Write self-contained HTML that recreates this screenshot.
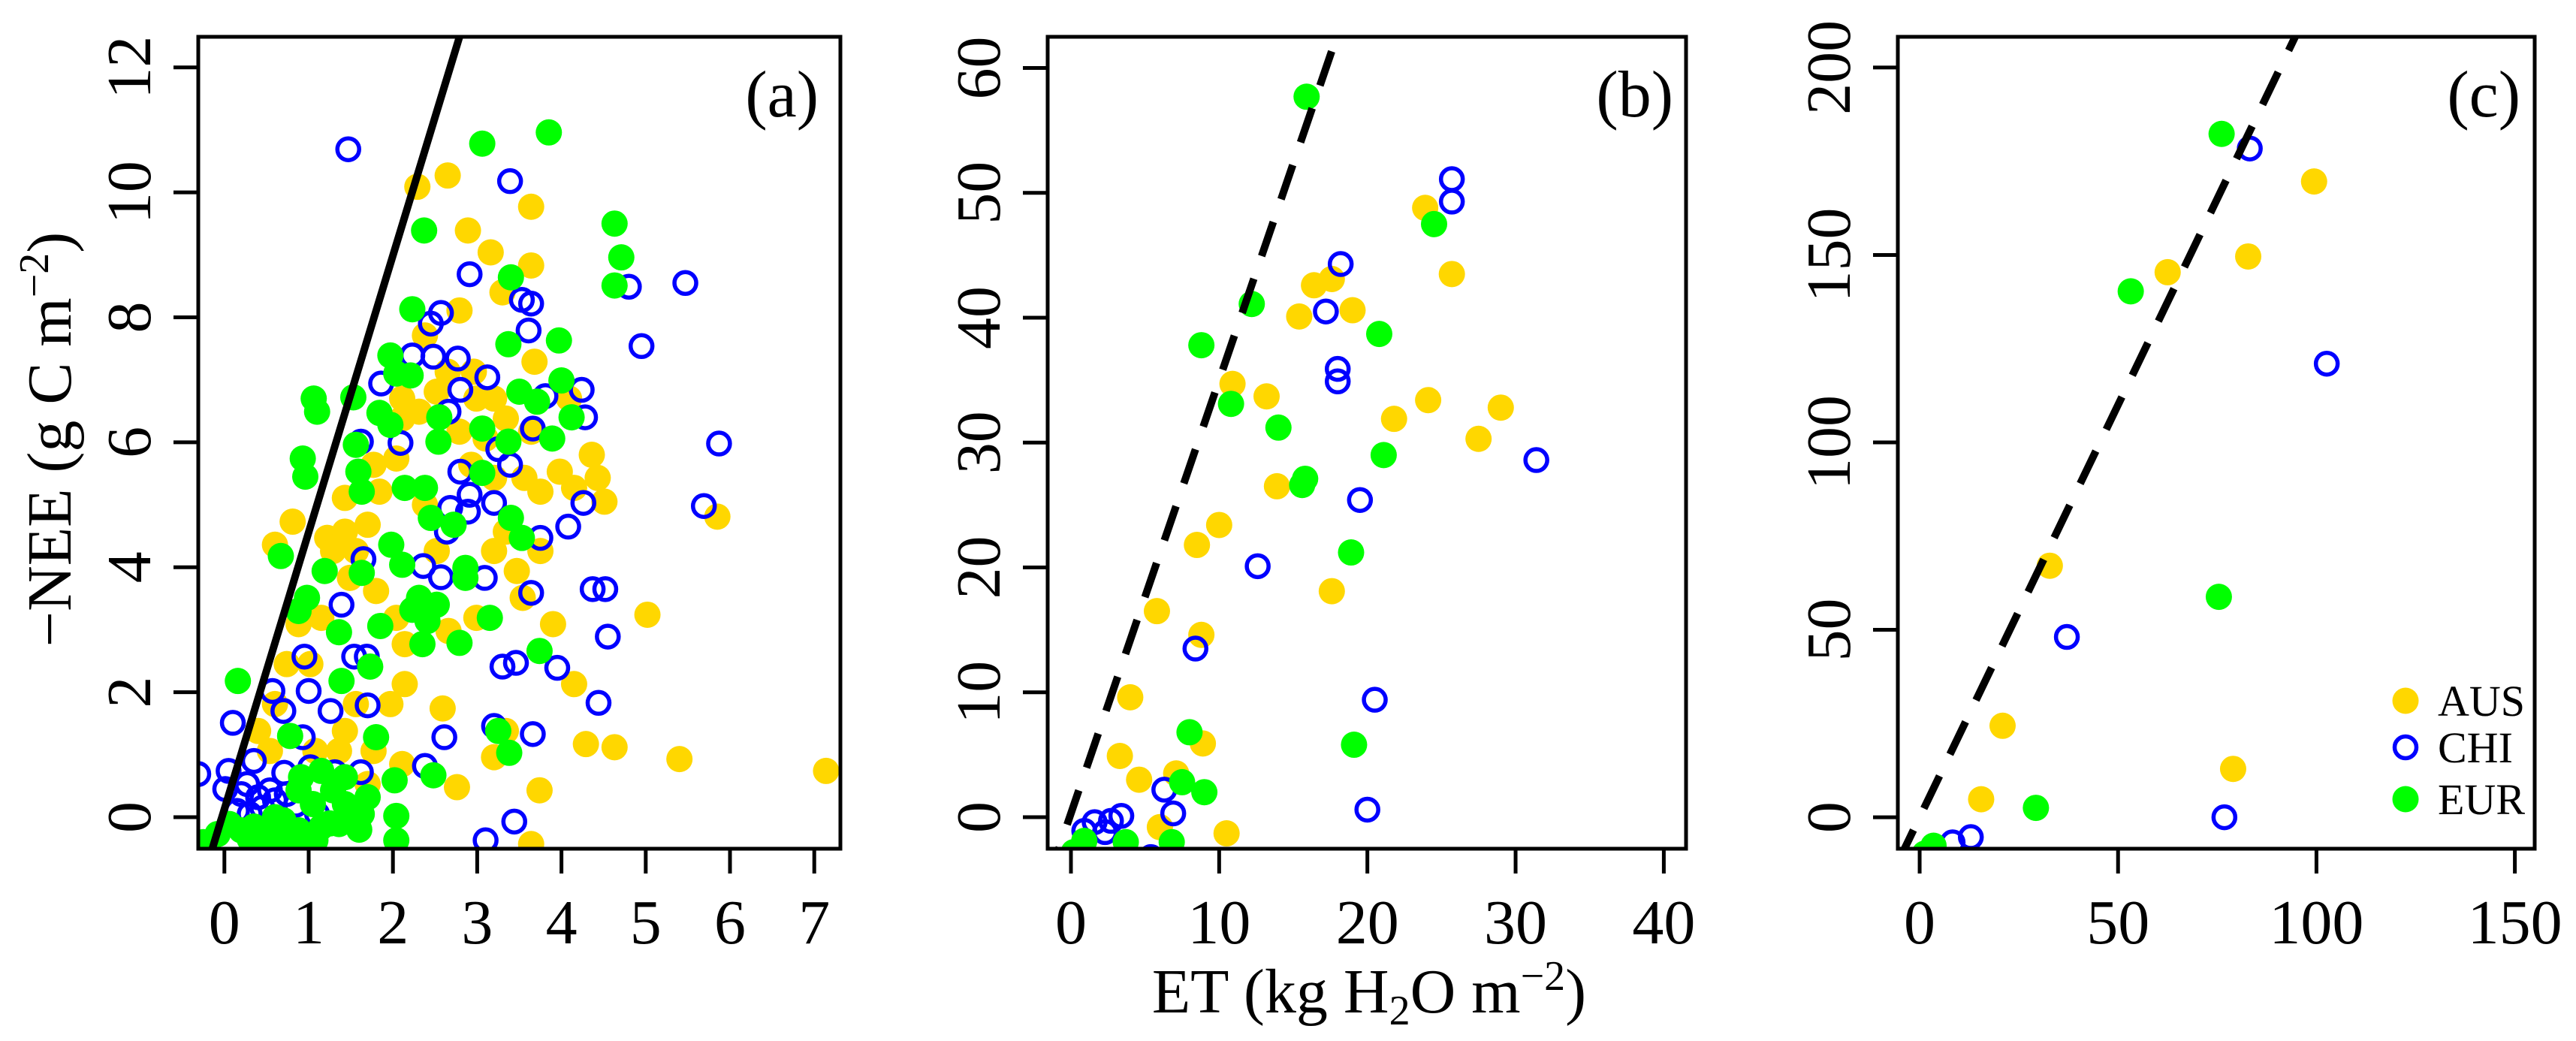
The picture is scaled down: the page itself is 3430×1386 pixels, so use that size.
<!DOCTYPE html>
<html><head><meta charset="utf-8"><style>
html,body{margin:0;padding:0;background:#fff;}
svg{display:block;}
svg text{font-family:"Liberation Serif","Times New Roman",Times,serif;}
</style></head><body>
<svg id="chart" width="3430" height="1386" viewBox="0 0 3430 1386" xmlns="http://www.w3.org/2000/svg" font-family="'Liberation Serif', serif">
<rect x="0" y="0" width="3430" height="1386" fill="#fff"/>
</svg>
<script>
// ---- Panel (a) data ----
const aAusX=[2.65,2.29,2.89,3.16,3.64,3.64,3.30,2.79,2.38,3.68,2.96,4.09,4.36,3.98,4.15,4.51,3.75,3.56,5.85,5.02,5.40,7.14,4.29,4.63,3.90,3.74,3.64,2.76,2.59,2.14,1.97,2.14,1.80,1.49,1.22,1.43,1.70,0.81,0.60,1.29,1.56,1.84,1.43,1.77,2.04,2.11,2.31,2.52,2.65,2.11,3.34,3.20,3.10,3.64,2.93,3.20,3.34,3.20,3.47,3.75,3.54,2.99,2.66,2.04,1.15,0.88,1.02,0.74,0.60,0.40,0.54,1.08,1.43,1.56,1.36,1.77,2.11,1.70,3.20,3.34,4.15,2.52,2.38,2.79,2.99,4.43];
const aAusY=[10.27,10.09,9.39,9.04,9.77,8.83,8.40,8.11,7.71,7.29,7.13,6.70,5.80,5.53,5.27,5.05,5.21,5.43,4.81,3.24,0.93,0.74,1.17,1.12,3.09,0.43,-0.43,0.48,1.74,2.13,1.81,2.77,3.62,3.83,4.47,4.57,4.68,4.73,4.36,4.26,4.26,5.21,5.11,5.64,5.74,6.38,6.49,6.81,7.13,6.70,6.38,6.70,6.06,6.17,5.64,5.43,4.57,4.26,3.94,4.26,3.51,3.19,2.98,3.19,3.19,3.09,2.45,2.45,1.81,1.38,1.06,1.06,1.38,1.81,1.06,1.06,0.85,0.53,0.96,1.38,2.13,4.26,5.00,6.17,6.70,5.43];
const aChiX=[1.47,3.39,2.91,4.80,5.47,4.95,5.87,5.69,2.57,2.45,3.53,3.64,3.61,2.48,2.23,2.77,1.86,3.12,2.80,3.81,4.24,4.28,2.66,3.66,2.09,1.62,3.25,3.39,2.80,2.91,2.89,2.68,4.26,3.20,2.64,3.75,4.08,1.65,2.36,2.57,3.09,3.64,4.37,4.52,4.55,1.39,0.95,1.00,1.26,1.70,0.57,0.70,0.10,0.93,1.69,1.54,3.30,3.46,3.95,4.44,3.20,3.66,2.61,2.38,3.44,3.10,-0.31,0.05,0.01,0.35,0.71,1.02,1.31,1.62,0.20,0.40,0.54,0.27,0.60,0.74,0.15,0.45,0.85,1.10,0.30];
const aChiY=[10.69,10.18,8.69,8.49,8.55,7.54,5.98,4.98,8.07,7.90,8.28,8.22,7.79,7.37,7.39,7.34,6.94,7.04,6.84,6.74,6.84,6.40,6.49,6.22,5.99,6.01,5.89,5.64,5.53,5.16,4.89,4.95,5.03,5.03,4.57,4.47,4.65,4.13,4.02,3.84,3.83,3.59,3.65,3.65,2.89,3.40,2.57,2.02,1.70,1.79,2.02,1.70,1.51,1.28,2.57,2.57,2.41,2.47,2.39,1.83,1.46,1.33,1.28,0.82,-0.07,-0.37,0.69,0.74,0.45,0.90,0.71,0.80,0.72,0.72,0.37,0.32,0.43,0.53,0.27,0.37,0.10,0.15,0.20,0.05,0.05];
const aEurX=[3.85,3.06,4.63,4.71,4.63,2.37,3.40,2.23,3.37,3.97,1.97,2.04,2.21,1.53,1.06,1.10,1.84,1.97,2.55,3.50,3.71,4.00,4.12,3.89,3.06,3.37,2.54,1.56,0.93,0.96,1.59,3.06,1.63,2.14,2.38,2.45,2.72,3.40,3.53,0.67,1.19,1.63,1.98,2.11,2.86,2.86,0.98,0.88,2.31,2.52,2.23,2.41,3.15,1.85,1.36,2.35,2.79,3.74,1.73,1.39,0.16,0.78,1.80,3.25,3.38,2.48,2.02,1.63,2.04,2.04,-0.08,0.20,0.54,0.88,1.15,1.36,1.56,0.40,0.74,1.08,1.29,1.43,1.15,0.91,1.05,1.43,1.70,0.88,0.60,0.06,-0.25,0.30,0.45,0.95,0.70,1.25,1.60,0.35];
const aEurY=[10.96,10.78,9.50,8.96,8.51,9.39,8.64,8.13,7.57,7.63,7.39,7.10,7.07,6.72,6.70,6.49,6.47,6.28,6.40,6.81,6.65,6.99,6.40,6.06,6.22,6.01,6.01,5.96,5.74,5.45,5.53,5.51,5.21,5.27,5.27,4.79,4.68,4.79,4.47,4.18,3.94,3.91,4.36,4.04,3.99,3.83,3.51,3.30,3.51,3.40,3.32,3.14,3.19,3.06,2.96,2.77,2.79,2.66,2.41,2.18,2.18,1.30,1.28,1.38,1.03,0.67,0.59,0.05,0.02,-0.37,-0.27,-0.21,-0.16,-0.21,-0.16,-0.11,0.00,-0.43,-0.43,-0.37,0.43,0.64,0.74,0.64,0.21,0.21,0.32,0.43,0.00,-0.11,-0.40,-0.35,-0.40,-0.30,-0.05,-0.10,-0.20,-0.15];
// ---- Panel (b) data ----
const bAusX=[5.8,4.0,3.3,4.6,8.5,10.0,8.8,8.9,7.1,6.0,10.5,10.9,13.2,13.9,15.4,16.4,17.6,19.0,17.6,21.8,23.9,24.1,25.7,27.5,29.0];
const bAusY=[16.5,9.6,4.9,3.0,21.8,23.4,14.6,5.9,3.5,-0.8,-1.3,34.7,33.7,26.5,40.1,42.6,43.1,40.6,18.1,31.9,48.8,33.4,43.5,30.3,32.8];
const bChiX=[18.2,17.2,18.0,18.0,25.7,25.7,31.4,19.5,12.6,8.4,20.5,20.0,6.3,6.9,3.4,2.7,1.6,0.9,2.3,5.4];
const bChiY=[44.3,40.5,35.9,34.9,51.1,49.3,28.6,25.4,20.1,13.5,9.4,0.6,2.2,0.3,0.1,-0.3,-0.4,-1.1,-1.2,-3.2];
const bEurX=[15.9,12.2,8.8,10.8,14.0,20.8,21.1,15.6,15.8,18.9,24.5,8.0,19.1,7.5,9.0,6.8,3.7,0.9,0.2];
const bEurY=[57.7,41.1,37.8,33.1,31.2,38.7,29.0,26.6,27.1,21.2,47.5,6.8,5.8,2.8,2.0,-2.0,-2.0,-1.9,-2.8];
// ---- Panel (c) data ----
const cAusX=[32.8,20.9,15.5,62.5,82.8,99.4,79.0];
const cAusY=[67.1,24.4,4.8,145.4,149.6,169.6,12.9];
const cChiX=[83.2,102.6,37.1,76.8,12.9,8.3];
const cChiY=[178.4,121.0,48.1,0,-5.3,-6.7];
const cEurX=[76.1,53.2,75.4,29.3,3.5,1.3];
const cEurY=[182.3,140.3,58.8,2.5,-7.6,-9.7];
// ticks
const aXTicks=[0,1,2,3,4,5,6,7], aYTicks=[0,2,4,6,8,10,12];
const bXTicks=[0,10,20,30,40], bYTicks=[0,10,20,30,40,50,60];
const cXTicks=[0,50,100,150], cYTicks=[0,50,100,150,200];
// reference lines: slope, intercept
const aLine=[4.43,0.13], bLine=[3.47,0.3], cLine=[2.2,0];

const NS="http://www.w3.org/2000/svg";
const FONT="'Liberation Serif', 'Times New Roman', serif";
const svg=document.getElementById('chart');
function mk(tag,attrs,parent){const e=document.createElementNS(NS,tag);for(const k in attrs)e.setAttribute(k,attrs[k]);if(tag==='text')e.setAttribute('font-family',FONT);(parent||svg).appendChild(e);return e;}

const panels=[
 {id:'a',box:[264,49,1119,1130],xd:[-0.31,7.31],yd:[-0.505,12.49],xt:aXTicks,yt:aYTicks,line:aLine,dash:false,lab:'(a)',labx:1090,
  aus:[aAusX,aAusY],chi:[aChiX,aChiY],eur:[aEurX,aEurY]},
 {id:'b',box:[1395,49,2245,1130],xd:[-1.57,41.5],yd:[-2.53,62.5],xt:bXTicks,yt:bYTicks,line:bLine,dash:true,lab:'(b)',labx:2228,
  aus:[bAusX,bAusY],chi:[bChiX,bChiY],eur:[bEurX,bEurY]},
 {id:'c',box:[2527,49,3375,1130],xd:[-5.5,155],yd:[-8.4,208.2],xt:cXTicks,yt:cYTicks,line:cLine,dash:true,lab:'(c)',labx:3356,
  aus:[cAusX,cAusY],chi:[cChiX,cChiY],eur:[cEurX,cEurY]}
];
const AUS='#FFD700', CHI='#0000FF', EUR='#00FF00';

panels.forEach(p=>{
  const [L,T,R,B]=p.box;
  const sx=v=>L+(v-p.xd[0])/(p.xd[1]-p.xd[0])*(R-L);
  const sy=v=>B-(v-p.yd[0])/(p.yd[1]-p.yd[0])*(B-T);
  const g=mk('g',{});
  
  
  const cp=mk('clipPath',{id:'clip-'+p.id},g);
  mk('rect',{x:L,y:T,width:R-L,height:B-T},cp);
  const marks=mk('g',{'clip-path':'url(#clip-'+p.id+')'},g);
  
  
  p.aus[0].forEach((x,i)=>{const c=mk('circle',{cx:sx(x),cy:sy(p.aus[1][i]),r:17.5,fill:AUS},marks);
    
    });
  p.chi[0].forEach((x,i)=>{const c=mk('circle',{cx:sx(x),cy:sy(p.chi[1][i]),r:14.5,fill:'none',stroke:CHI,'stroke-width':5.5},marks);
    
    });
  p.eur[0].forEach((x,i)=>{const c=mk('circle',{cx:sx(x),cy:sy(p.eur[1][i]),r:17.5,fill:EUR},marks);
    
    });
  const x0=p.xd[0], x1=p.xd[1];
  const ln=mk('line',{x1:sx(x0),y1:sy(p.line[0]*x0+p.line[1]),x2:sx(x1),y2:sy(p.line[0]*x1+p.line[1]),stroke:'#000','stroke-width':10},marks);
  if(p.dash) ln.setAttribute('stroke-dasharray','48 32');
  
  
  const box=mk('rect',{x:L,y:T,width:R-L,height:B-T,fill:'none',stroke:'#000','stroke-width':5},g);
  
  
  p.xt.forEach(v=>{
    const x=sx(v);
    const t=mk('line',{x1:x,y1:B,x2:x,y2:B+33,stroke:'#000','stroke-width':5},g);
    
    
    const tx=mk('text',{x:x,y:1256,'font-size':84,'text-anchor':'middle'},g);
    tx.textContent=v;
    
    
  });
  p.yt.forEach(v=>{
    const y=sy(v);
    const t=mk('line',{x1:L,y1:y,x2:L-33,y2:y,stroke:'#000','stroke-width':5},g);
    
    
    const bx=L-64;
    const tx=mk('text',{x:bx,y:y,'font-size':84,'text-anchor':'middle',transform:'rotate(-90 '+bx+' '+y+')'},g);
    tx.textContent=v;
    
    
  });
  const lb=mk('text',{x:p.labx,y:155,'font-size':88,'text-anchor':'end'},g);
  lb.textContent=p.lab;
  
  
});

// legend in panel c
const legItems=[['AUS',933,'fill'],['CHI',995,'open'],['EUR',1064,'fill']];
const legCols=[AUS,CHI,EUR];
const lg=mk('g',{});


legItems.forEach((it,i)=>{
  const c=it[2]==='fill'?mk('circle',{cx:3203,cy:it[1],r:17.5,fill:legCols[i]},lg):mk('circle',{cx:3203,cy:it[1],r:14.5,fill:'none',stroke:legCols[i],'stroke-width':5.5},lg);
  
  
  const t=mk('text',{x:3246,y:it[1]+20,'font-size':58},lg);
  t.textContent=it[0];
  
  
});

// axis titles
const yt=mk('text',{x:94,y:585,'font-size':84,'text-anchor':'middle',transform:'rotate(-90 94 585)'});
yt.innerHTML='\u2212NEE (g C m<tspan font-size="56" dy="-30">\u22122</tspan><tspan dy="30">)</tspan>';


const xt=mk('text',{x:1823,y:1348,'font-size':84,'text-anchor':'middle'});
xt.innerHTML='ET (kg H<tspan font-size="56" dy="16">2</tspan><tspan dy="-16">O m</tspan><tspan font-size="56" dy="-30">\u22122</tspan><tspan dy="30">)</tspan>';


</script>
</body></html>
